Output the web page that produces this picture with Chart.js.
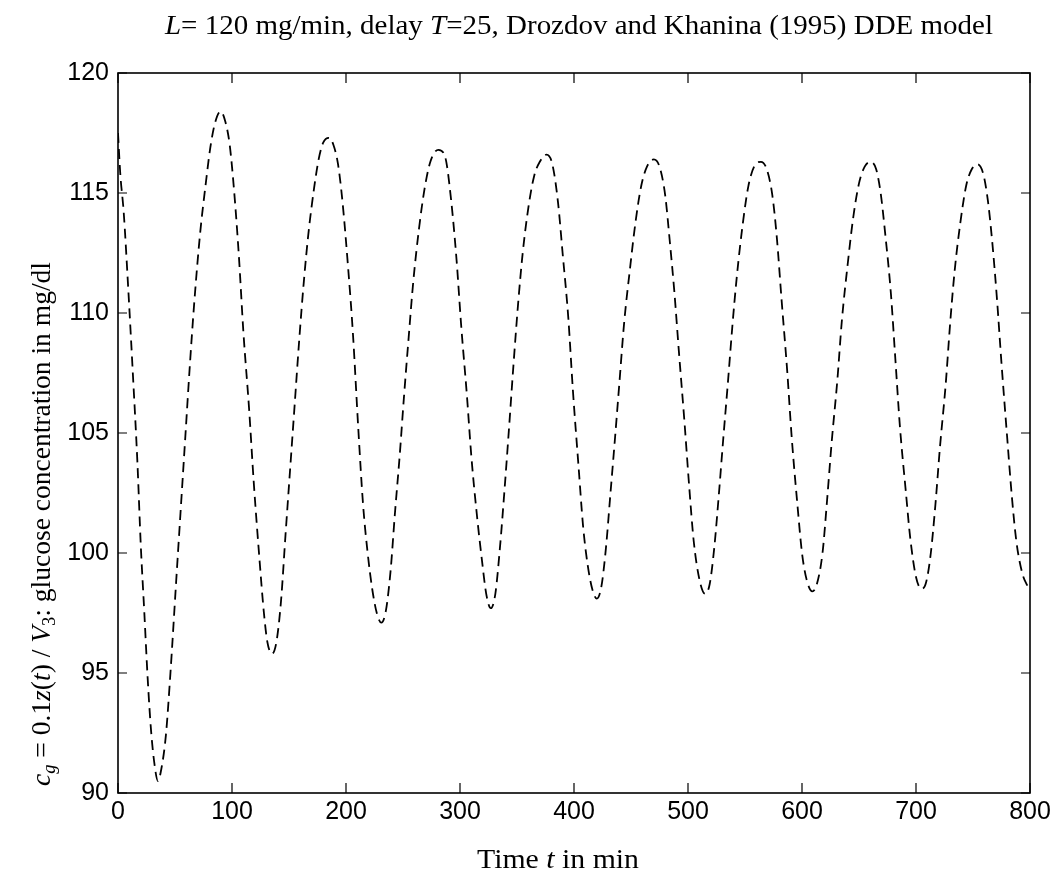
<!DOCTYPE html>
<html>
<head>
<meta charset="utf-8">
<script src="https://cdn.jsdelivr.net/npm/chart.js"></script>
<style>
  html, body { margin: 0; padding: 0; background: #fff; }
  canvas { display: block; }
</style>
</head>
<body>
<canvas id="glucose" width="1056" height="884"></canvas>
<script>
// time in min
const time_min = [
  0, 2, 5, 9, 13, 17, 20, 23, 26, 29, 32, 35, 38, 42, 46, 51, 55, 59, 63, 67, 72, 77, 81, 85, 90,
  94, 98, 102, 106, 110, 115, 119, 124, 128, 131, 135, 139, 143, 147, 151, 155, 159, 163, 167, 172,
  176, 180, 185, 189, 193, 197, 202, 206, 211, 215, 219, 223, 227, 231, 235, 239, 243, 247, 251,
  255, 259, 264, 269, 274, 281, 287, 292, 297, 301, 306, 310, 315, 319, 323, 327, 331, 335, 339,
  343, 347, 351, 355, 360, 365, 370, 376, 381, 386, 390, 395, 399, 404, 408, 412, 416, 420, 424,
  428, 432, 436, 440, 444, 449, 454, 459, 464, 470, 475, 480, 484, 488, 492, 497, 501, 505, 510,
  515, 519, 523, 527, 531, 535, 539, 543, 548, 553, 558, 564, 569, 574, 578, 582, 587, 591, 596,
  600, 604, 609, 613, 618, 622, 626, 631, 635, 640, 645, 650, 655, 660, 665, 669, 673, 678, 682,
  686, 691, 695, 700, 705, 709, 713, 717, 721, 726, 730, 734, 739, 744, 749, 754, 759, 763, 767,
  771, 775, 780, 784, 788, 793, 797, 800
];
// glucose concentration in mg/dl
const glucose = [
  117.5, 115.8, 114.2, 111.0, 107.5, 103.8, 100.3, 97.6, 94.8, 92.6, 91.2, 90.5, 91.0, 92.4, 95.0,
  98.8, 101.8, 104.8, 107.8, 110.5, 113.3, 115.4, 116.9, 117.9, 118.4,
  118.0, 117.0, 115.0, 112.4, 109.2, 106.0, 103.0, 99.8, 97.5, 96.3, 95.8, 96.3, 98.0, 100.8, 103.5,
  106.2, 108.9, 111.3, 113.3, 115.2,
  116.4, 117.1, 117.3, 117.0, 116.2, 114.6, 111.8, 109.2, 105.0, 102.0, 100.0, 98.5, 97.5, 97.1,
  97.6, 99.2, 101.7, 104.0, 106.6,
  109.0, 111.3, 113.5, 115.2, 116.3, 116.8, 116.5, 114.8, 112.2, 109.5, 106.6, 104.0, 101.5, 99.8,
  98.3, 97.7, 98.3, 100.2, 102.6,
  105.2, 107.9, 110.4, 112.5, 114.4, 115.7, 116.3, 116.6, 116.2, 114.6, 112.5, 109.8, 106.8, 103.6,
  101.1, 99.5, 98.5, 98.1, 98.6,
  100.2, 102.5, 104.8, 107.2, 109.6, 111.8, 113.8, 115.3, 116.1, 116.4, 116.1, 114.9, 113.0, 110.9,
  108.4, 105.4, 102.8, 100.5, 98.9,
  98.3, 98.7, 100.2, 102.4, 104.8, 107.1, 109.5, 111.6, 113.7, 115.3, 116.1, 116.3, 116.0, 114.9,
  113.1, 110.6, 107.6, 104.8, 102.0,
  100.0, 98.9, 98.4, 98.7, 100.0, 102.2, 104.6, 107.2, 109.7, 112.0, 114.0, 115.4, 116.1, 116.3,
  116.0, 115.0, 113.3, 110.8, 108.0,
  105.2, 102.6, 100.6, 99.0, 98.5, 98.8, 100.0, 102.0, 104.4, 107.0, 109.6, 111.8, 113.8, 115.3,
  116.0, 116.2, 115.8, 114.7, 112.9,
  110.6, 107.9, 104.8, 102.4, 100.5, 99.2, 98.7, 98.5
];
const x_ticks = [0, 100, 200, 300, 400, 500, 600, 700, 800];
const y_ticks = [90, 95, 100, 105, 110, 115, 120];

const serif = "'Liberation Serif', 'Times New Roman', serif";

// draws a row of text pieces with mixed fonts, stretched to a given width
function drawRuns(ctx, runs, cx, base, width) {
  let total = 0;
  runs.forEach(r => { ctx.font = r.font; r.w = ctx.measureText(r.t).width; total += r.w; });
  const s = width / total;
  ctx.save();
  ctx.translate(cx - width / 2, base);
  ctx.scale(s, 1);
  let x = 0;
  runs.forEach(r => {
    ctx.font = r.font;
    ctx.fillText(r.t, x, r.dy || 0);
    x += r.w;
  });
  ctx.restore();
}

const frame = {
  id: 'frame',
  afterDraw(chart) {
    const { ctx, chartArea: a } = chart;
    const xs = chart.scales.x, ys = chart.scales.y;
    ctx.save();
    ctx.strokeStyle = '#000';
    ctx.lineWidth = 1.6;
    ctx.strokeRect(a.left, a.top, a.right - a.left, a.bottom - a.top);
    ctx.lineWidth = 1.2;
    ctx.beginPath();
    xs.ticks.forEach(t => {
      const p = xs.getPixelForValue(t.value);
      ctx.moveTo(p, a.bottom); ctx.lineTo(p, a.bottom - 10);
      ctx.moveTo(p, a.top); ctx.lineTo(p, a.top + 10);
    });
    ys.ticks.forEach(t => {
      const p = ys.getPixelForValue(t.value);
      ctx.moveTo(a.left, p); ctx.lineTo(a.left + 9, p);
      ctx.moveTo(a.right, p); ctx.lineTo(a.right - 9, p);
    });
    ctx.stroke();

    ctx.fillStyle = '#000';
    ctx.textBaseline = 'alphabetic';
    ctx.textAlign = 'left';
    const n = '27px ' + serif, it = 'italic 27px ' + serif, sub = 'italic 18px ' + serif;
    drawRuns(ctx, [
      { t: 'L', font: it },
      { t: '= 120 mg/min, delay ', font: n },
      { t: 'T', font: it },
      { t: '=25, Drozdov and Khanina (1995) DDE model', font: n }
    ], 579, 34, 828);

    drawRuns(ctx, [
      { t: 'Time ', font: n },
      { t: 't', font: it },
      { t: ' in min', font: n }
    ], 558, 868, 162);

    ctx.save();
    ctx.translate(50, 524);
    ctx.rotate(-Math.PI / 2);
    drawRuns(ctx, [
      { t: 'c', font: it },
      { t: 'g', font: sub, dy: 5 },
      { t: ' = 0.1', font: n },
      { t: 'z', font: it },
      { t: '(', font: n },
      { t: 't', font: it },
      { t: ') / ', font: n },
      { t: 'V', font: it },
      { t: '3', font: '18px ' + serif, dy: 5 },
      { t: ': glucose concentration in mg/dl', font: n }
    ], 0, 0, 524);
    ctx.restore();
    ctx.restore();
  }
};

const points = time_min.map((t, i) => ({ x: t, y: glucose[i] }));

new Chart(document.getElementById('glucose'), {
  type: 'line',
  data: {
    datasets: [{
      data: points,
      borderColor: '#000',
      borderWidth: 1.8,
      borderDash: [10, 6],
      pointRadius: 0,
      fill: false,
      cubicInterpolationMode: 'monotone'
    }]
  },
  options: {
    responsive: false,
    animation: false,
    devicePixelRatio: 1,
    layout: { padding: { top: 73, right: 26, left: 0, bottom: 0 } },
    plugins: { legend: { display: false }, tooltip: { enabled: false }, title: { display: false } },
    scales: {
      x: {
        type: 'linear',
        min: 0, max: 800,
        afterBuildTicks: s => { s.ticks = x_ticks.map(v => ({ value: v })); },
        afterFit: s => { s.height = 91; },
        grid: { display: false, drawTicks: false },
        border: { display: false },
        ticks: { color: '#000', padding: 4, maxRotation: 0, font: { family: "'Liberation Sans', Arial, sans-serif", size: 25 } }
      },
      y: {
        min: 90, max: 120,
        afterBuildTicks: s => { s.ticks = y_ticks.map(v => ({ value: v })); },
        afterFit: s => { s.width = 118; },
        grid: { display: false, drawTicks: false },
        border: { display: false },
        ticks: { color: '#000', padding: 9, font: { family: "'Liberation Sans', Arial, sans-serif", size: 25 } }
      }
    }
  },
  plugins: [frame]
});
</script>
</body>
</html>
